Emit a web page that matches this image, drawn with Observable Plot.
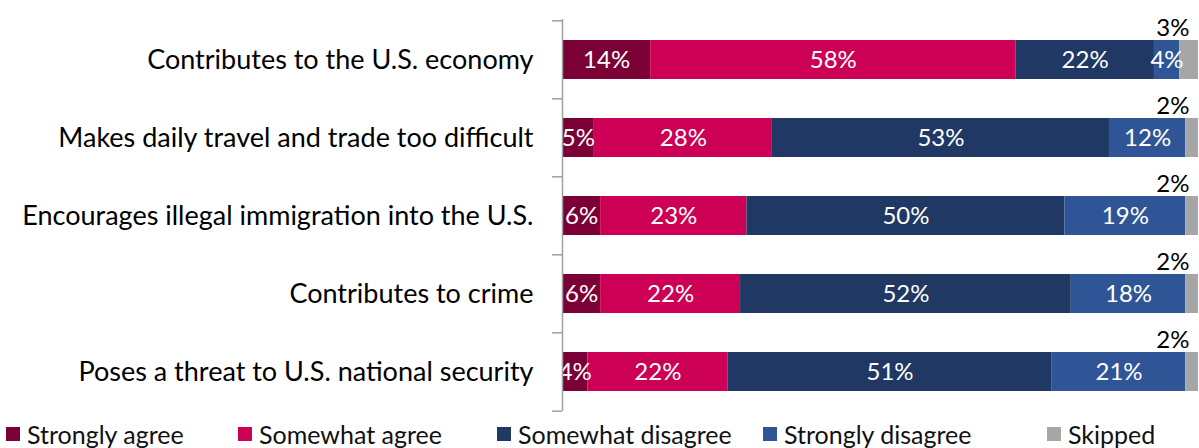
<!DOCTYPE html>
<html>
<head>
<meta charset="utf-8">
<script src="https://cdn.jsdelivr.net/npm/d3@7"></script>
<script src="https://cdn.jsdelivr.net/npm/@observablehq/plot@0.6"></script>
<style>
  html, body { margin: 0; padding: 0; background: #fff; }
  #wrap { width: 1199px; height: 448px; position: relative; font-family: Lato, "Open Sans", sans-serif; }
  #legend { position: absolute; left: 0; top: 420px; width: 1199px; height: 28px; font-size: 25px; color: #111; }
  .item { position: absolute; top: 0; display: flex; align-items: center; height: 28px; white-space: nowrap; }
  .sw { width: 14px; height: 14px; margin-right: 7px; }
</style>
</head>
<body>
<div id="wrap">
  <div id="chart"></div>
  <div id="legend"></div>
</div>
<script>
const categories = [
  "Contributes to the U.S. economy",
  "Makes daily travel and trade too difficult",
  "Encourages illegal immigration into the U.S.",
  "Contributes to crime",
  "Poses a threat to U.S. national security"
];
const seriesNames = ["Strongly agree", "Somewhat agree", "Somewhat disagree", "Strongly disagree", "Skipped"];
const stronglyAgree    = [14, 5, 6, 6, 4];
const somewhatAgree    = [58, 28, 23, 22, 22];
const somewhatDisagree = [22, 53, 50, 52, 51];
const stronglyDisagree = [4, 12, 19, 18, 21];
const skipped          = [3, 2, 2, 2, 2];
const colors = ["#7B0035", "#CC0055", "#203864", "#2F5597", "#A6A6A6"];
const legendX = [6, 238, 497, 763, 1047];

const seriesValues = [stronglyAgree, somewhatAgree, somewhatDisagree, stronglyDisagree, skipped];
const data = [];
categories.forEach((c, i) => {
  seriesNames.forEach((s, j) => data.push({category: c, series: s, value: seriesValues[j][i]}));
});
const skippedRows = data.filter(d => d.series === "Skipped");

const marginTop = 19, plotH = 392, marginBottom = 4;
const step = plotH / categories.length;

const chart = Plot.plot({
  width: 1199,
  height: marginTop + plotH + marginBottom,
  marginTop, marginBottom,
  marginLeft: 562,
  marginRight: 1,
  style: {fontFamily: "Lato, 'Open Sans', sans-serif", background: "#fff", color: "#000"},
  x: {domain: [0, 1], axis: null},
  y: {domain: categories, paddingInner: 0.5, paddingOuter: 0.25, label: null},
  color: {domain: seriesNames, range: colors},
  marks: [
    Plot.barX(data, Plot.stackX({x: "value", y: "category", fill: "series", order: seriesNames, offset: "normalize"})),
    Plot.text(data, Plot.stackX({
      x: "value", y: "category", z: "series", order: seriesNames, offset: "normalize",
      text: d => d.series === "Skipped" ? null : d.value + "%",
      fill: "white", fontSize: 24
    })),
    Plot.text(skippedRows, {y: "category", text: d => d.value + "%", frameAnchor: "right", textAnchor: "end", dx: -9, dy: -32, fontSize: 24, fill: "#000"}),
    Plot.ruleX([0], {stroke: "#A0A0A0", strokeWidth: 1.5}),
    Plot.ruleY(categories, {y: d => d, x1: 0, x2: 0, insetLeft: -10, dy: -step / 2, stroke: "#A0A0A0", strokeWidth: 1.5}),
    Plot.ruleY([categories[categories.length - 1]], {y: d => d, x1: 0, x2: 0, insetLeft: -10, dy: step / 2, stroke: "#A0A0A0", strokeWidth: 1.5}),
    Plot.axisY({tickSize: 0, tickPadding: 29, fontSize: 27, label: null})
  ]
});
document.getElementById("chart").appendChild(chart);

const legend = document.getElementById("legend");
seriesNames.forEach((s, i) => {
  const item = document.createElement("div");
  item.className = "item";
  item.style.left = legendX[i] + "px";
  const sw = document.createElement("div");
  sw.className = "sw";
  sw.style.background = colors[i];
  const t = document.createElement("span");
  t.textContent = s;
  item.appendChild(sw);
  item.appendChild(t);
  legend.appendChild(item);
});
</script>
</body>
</html>
